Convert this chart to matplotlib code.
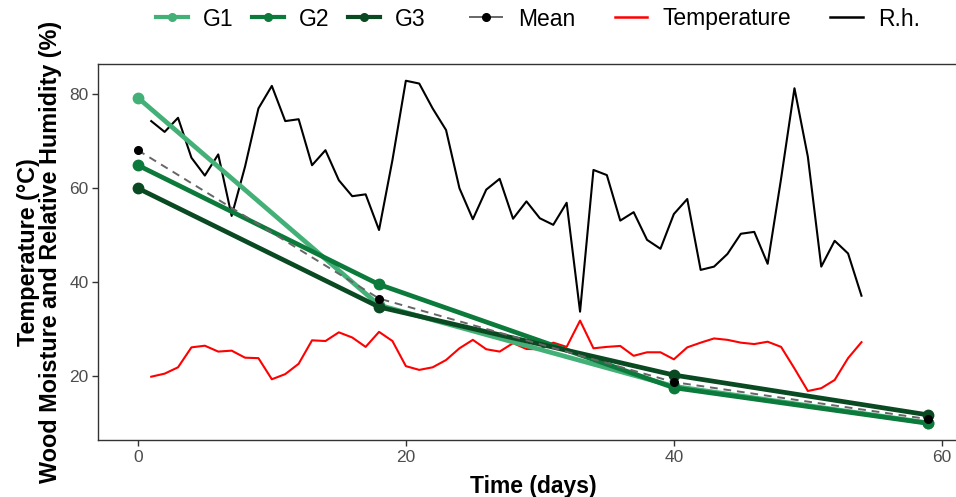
import matplotlib
matplotlib.use("Agg")
import matplotlib.pyplot as plt
from matplotlib.lines import Line2D

plt.rcParams['font.family'] = ['Liberation Sans', 'DejaVu Sans']

# ---- data ----
sample_days = [0, 18, 40, 59]
g1 = [79.3, 35.1, 17.8, 10.0]
g2 = [64.9, 39.5, 17.5, 9.9]
g3 = [60.0, 34.7, 20.2, 11.7]
mean_vals = [68.1, 36.5, 18.7, 10.8]

weather_days = list(range(1, 55))
temperature = [19.85, 20.5, 21.85, 26.1, 26.45, 25.2, 25.4, 23.9, 23.8, 19.3,
               20.4, 22.6, 27.6, 27.45, 29.3, 28.2, 26.2, 29.4, 27.45, 22.1,
               21.3, 21.85, 23.4, 25.9, 27.7, 25.7, 25.2, 27.0, 25.75, 25.7,
               27.1, 26.2, 31.8, 25.9, 26.2, 26.4, 24.3, 25.05, 25.05, 23.55,
               26.1, 27.1, 28.0, 27.7, 27.1, 26.8, 27.3, 26.2, 21.6, 16.8,
               17.4, 19.15, 23.8, 27.2]
rh = [74.3, 72.0, 75.0, 66.5, 62.7, 67.2, 54.1, 64.6, 77.0, 81.8,
      74.3, 74.7, 64.9, 68.1, 61.7, 58.3, 58.7, 51.1, 66.0, 82.9,
      82.3, 77.0, 72.4, 60.0, 53.4, 59.7, 62.0, 53.5, 57.2, 53.6,
      52.2, 56.9, 33.7, 63.9, 62.8, 53.1, 54.9, 49.0, 47.1, 54.5,
      57.7, 42.6, 43.3, 46.0, 50.3, 50.7, 43.9, 62.0, 81.3, 66.7,
      43.3, 48.8, 46.1, 37.1]

x_ticks = [0, 20, 40, 60]
y_ticks = [20, 40, 60, 80]

group_names = ['G1', 'G2', 'G3']
group_colors = ['#43B077', '#0B7A3B', '#0A4A22']

W, H = 956, 497
fig = plt.figure(figsize=(W / 100, H / 100), dpi=100)
ax = fig.add_axes([98.3 / W, (H - 440.3) / H, (968 - 98.3) / W, (440.3 - 64.3) / H])

ax.plot(weather_days, temperature, color='#FF0000', lw=1.5, zorder=2)
ax.plot(weather_days, rh, color='black', lw=1.5, zorder=2)

for vals, col in zip([g1, g2, g3], group_colors):
    ax.plot(sample_days, vals, color=col, lw=3.4, marker='o', ms=7.5,
            solid_capstyle='butt', zorder=3)

ax.plot(sample_days, mean_vals, color='#666666', lw=1.4, ls=(0, (4, 3)), zorder=4)
ax.plot(sample_days, mean_vals, ls='none', marker='o', color='black', ms=5.5, zorder=5)

ax.set_xlim(-2.95, 61.95)
ax.set_ylim(6.3, 86.4)
ax.set_xticks(x_ticks)
ax.set_yticks(y_ticks)
for s in ax.spines.values():
    s.set_color('#333333')
    s.set_linewidth(1.0)
ax.tick_params(axis='both', colors='#333333', length=4, width=1.0,
               labelsize=12.5, labelcolor='#4D4D4D', pad=3)

ax.set_xlabel('Time (days)', fontsize=16.5, fontweight='bold', labelpad=7)
ax.set_ylabel('Temperature (°C)\nWood Moisture and Relative Humidity (%)',
              fontsize=16.8, fontweight='bold', labelpad=5, linespacing=0.95)

# legends
h1 = [Line2D([], [], color=c, lw=3.0, marker='o', ms=5.5) for c in group_colors]
leg1 = fig.legend(h1, group_names, loc='center', bbox_to_anchor=(290.5 / W, 1 - 19 / H),
                  ncol=3, frameon=False, fontsize=16.5, handlelength=1.4,
                  handletextpad=0.65, columnspacing=0.8, borderpad=0)
h2 = [Line2D([], [], color='#666666', lw=1.4, ls='-', marker='o',
             markerfacecolor='black', markeredgecolor='black', ms=5.5),
      Line2D([], [], color='#FF0000', lw=1.8),
      Line2D([], [], color='black', lw=1.8)]
leg2 = fig.legend(h2, ['Mean', 'Temperature', 'R.h.'], loc='center',
                  bbox_to_anchor=(695.5 / W, 1 - 19 / H), ncol=3, frameon=False,
                  fontsize=16.5, handlelength=1.4, handletextpad=0.7,
                  columnspacing=1.7, borderpad=0)

fig.savefig('out.png', dpi=100)
